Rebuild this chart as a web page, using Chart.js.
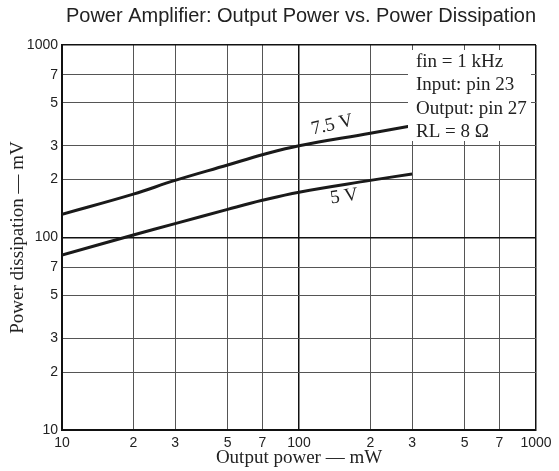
<!DOCTYPE html>
<html>
<head>
<meta charset="utf-8">
<script src="https://cdn.jsdelivr.net/npm/chart.js@4/dist/chart.umd.min.js"></script>
<style>
  html, body { margin: 0; padding: 0; background: #fff; }
  #wrap { width: 559px; height: 471px; }
</style>
</head>
<body>
<div id="wrap"><canvas id="chart" width="559" height="471"></canvas></div>
<script>
// values (log-log)
const outputPower = [10, 20, 30, 50, 70, 100, 200, 300];
const dissipation75V = [132, 168, 198, 238, 269, 300, 348, 381];
const dissipation5V = [81, 103, 118, 140, 156, 172, 198, 214];

const xTickValues = [10, 20, 30, 50, 70, 100, 200, 300, 500, 700, 1000];
const yTickValues = [10, 20, 30, 50, 70, 100, 200, 300, 500, 700, 1000];
const notes = ['fin = 1 kHz', 'Input: pin 23', 'Output: pin 27', 'RL = 8 \u03A9'];

const SERIF = '"Liberation Serif", "Times New Roman", serif';
const SANS = '"Liberation Sans", Arial, sans-serif';

const isDecade = v => [10, 100, 1000].includes(v);
const tickText = v => isDecade(v) ? String(v) : String(v).charAt(0);

function toPoints(ys) {
  return outputPower.map((x, i) => ({ x, y: ys[i] }));
}

// title, curve labels and the conditions box
const extras = {
  id: 'extras',
  afterDraw(chart) {
    const { ctx, chartArea: a, scales: { x, y } } = chart;
    ctx.save();
    ctx.fillStyle = '#222';
    ctx.font = '20px ' + SANS;
    ctx.textAlign = 'center';
    ctx.textBaseline = 'middle';
    ctx.fillText('Power Amplifier: Output Power vs. Power Dissipation', (a.left + a.right) / 2 + 2, 16);

    ctx.font = '19px ' + SERIF;
    const curveLabel = (text, vx, vy, angle) => {
      ctx.save();
      ctx.translate(x.getPixelForValue(vx), y.getPixelForValue(vy));
      ctx.rotate(angle * Math.PI / 180);
      ctx.fillText(text, 0, 0);
      ctx.restore();
    };
    curveLabel('7.5 V', 138, 384, -13);
    curveLabel('5 V', 155, 163, -8);

    // conditions box
    ctx.fillStyle = '#fff';
    ctx.fillRect(408, 50, 123, 91);
    ctx.fillStyle = '#222';
    ctx.textAlign = 'left';
    notes.forEach((t, i) => ctx.fillText(t, 416, 62 + i * 23.5));
    ctx.restore();
  }
};

new Chart(document.getElementById('chart'), {
  type: 'line',
  data: {
    datasets: [
      { label: '7.5 V', data: toPoints(dissipation75V), borderColor: '#1a1a1a', borderWidth: 3, pointRadius: 0, tension: 0.4 },
      { label: '5 V', data: toPoints(dissipation5V), borderColor: '#1a1a1a', borderWidth: 3, pointRadius: 0, tension: 0.4 }
    ]
  },
  options: {
    responsive: false,
    animation: false,
    layout: { padding: { left: 0, right: 23, top: 45, bottom: 0 } },
    plugins: { legend: { display: false }, tooltip: { enabled: false } },
    scales: {
      x: {
        type: 'logarithmic',
        min: 10,
        max: 1000,
        afterFit: s => { s.height = 41; },
        afterBuildTicks: s => { s.ticks = xTickValues.map(v => ({ value: v })); },
        border: { color: '#111', width: 2 },
        grid: {
          drawTicks: false,
          color: c => isDecade(c.tick && c.tick.value) ? '#111' : '#555',
          lineWidth: c => isDecade(c.tick && c.tick.value) ? 1.5 : 1
        },
        ticks: {
          autoSkip: false,
          maxRotation: 0,
          padding: 5,
          color: '#222',
          font: { family: SANS, size: 14 },
          callback: v => tickText(v)
        },
        title: {
          display: true,
          text: 'Output power \u2014 mW',
          color: '#222',
          font: { family: SERIF, size: 19 },
          padding: { top: 0, bottom: 2 }
        }
      },
      y: {
        type: 'logarithmic',
        min: 10,
        max: 1000,
        afterFit: s => { s.width = 62; },
        afterBuildTicks: s => { s.ticks = yTickValues.map(v => ({ value: v })); },
        border: { color: '#111', width: 2 },
        grid: {
          drawTicks: false,
          color: c => isDecade(c.tick && c.tick.value) ? '#111' : '#555',
          lineWidth: c => isDecade(c.tick && c.tick.value) ? 1.5 : 1
        },
        ticks: {
          autoSkip: false,
          padding: 4,
          color: '#222',
          font: { family: SANS, size: 14 },
          callback: v => tickText(v)
        },
        title: {
          display: true,
          text: 'Power dissipation \u2014 mV',
          color: '#222',
          font: { family: SERIF, size: 19 },
          padding: { top: 7, bottom: 0 }
        }
      }
    }
  },
  plugins: [extras]
});
</script>
</body>
</html>
